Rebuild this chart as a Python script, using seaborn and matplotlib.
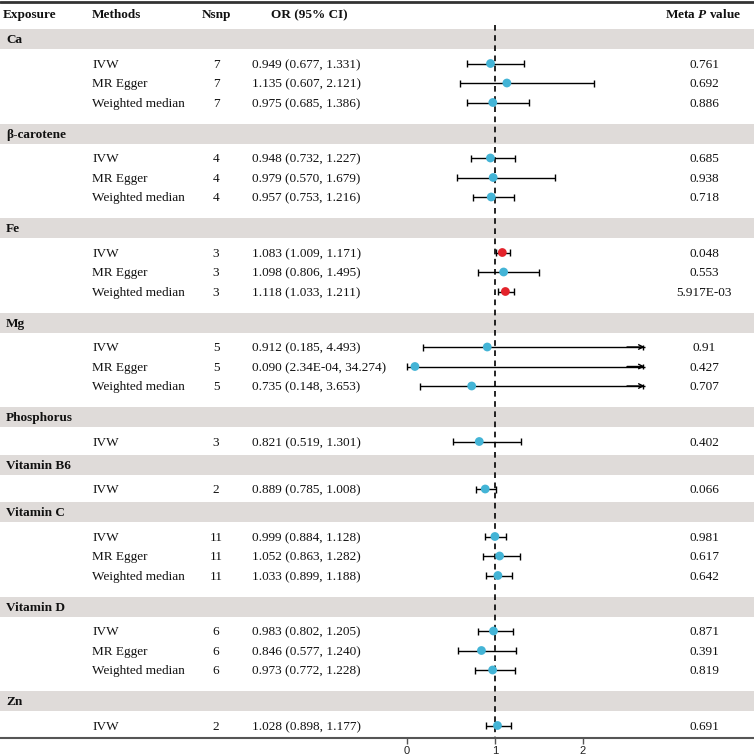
import numpy as np
import pandas as pd
import seaborn as sns
import matplotlib.pyplot as plt
import matplotlib.transforms as mtransforms

# data
exposure = ["Ca", "Ca", "Ca",
            "β-carotene", "β-carotene", "β-carotene",
            "Fe", "Fe", "Fe",
            "Mg", "Mg", "Mg",
            "Phosphorus",
            "Vitamin B6",
            "Vitamin C", "Vitamin C", "Vitamin C",
            "Vitamin D", "Vitamin D", "Vitamin D",
            "Zn"]
method = ["IVW", "MR Egger", "Weighted median"] * 4 + ["IVW", "IVW"] + \
         ["IVW", "MR Egger", "Weighted median"] * 2 + ["IVW"]
nsnp = [7, 7, 7, 4, 4, 4, 3, 3, 3, 5, 5, 5, 3, 2, 11, 11, 11, 6, 6, 6, 2]
odds = [0.949, 1.135, 0.975, 0.948, 0.979, 0.957, 1.083, 1.098, 1.118,
        0.912, 0.090, 0.735, 0.821, 0.889, 0.999, 1.052, 1.033,
        0.983, 0.846, 0.973, 1.028]
lower = [0.677, 0.607, 0.685, 0.732, 0.570, 0.753, 1.009, 0.806, 1.033,
         0.185, 2.34e-4, 0.148, 0.519, 0.785, 0.884, 0.863, 0.899,
         0.802, 0.577, 0.772, 0.898]
upper = [1.331, 2.121, 1.386, 1.227, 1.679, 1.216, 1.171, 1.495, 1.211,
         4.493, 34.274, 3.653, 1.301, 1.008, 1.128, 1.282, 1.188,
         1.205, 1.240, 1.228, 1.177]
pvals = ["0.761", "0.692", "0.886", "0.685", "0.938", "0.718",
         "0.048", "0.553", "5.917E-03", "0.91", "0.427", "0.707",
         "0.402", "0.066", "0.981", "0.617", "0.642",
         "0.871", "0.391", "0.819", "0.691"]
significant = [False] * 6 + [True, False, True] + [False] * 12

x_clip = 2.7

df = pd.DataFrame({"exposure": exposure, "method": method, "nsnp": nsnp,
                   "or_": odds, "lo": lower, "hi": upper, "p": pvals,
                   "sig": significant})
groups = list(pd.unique(df["exposure"]))


def fmt(v):
    return f"{v:.3f}" if v >= 0.001 else f"{v:.2E}"


df["ci_text"] = [f"{fmt(o)} ({fmt(l)}, {fmt(h)})" for o, l, h in zip(df.or_, df.lo, df.hi)]

# vertical layout (pixel rows)
band_y = []
row_y = []
y = 39
for g in groups:
    n = (df.exposure == g).sum()
    band_y.append(y)
    y += 24.5
    for i in range(n):
        row_y.append(y)
        if i < n - 1:
            y += 19.5
    y += 31 if n > 1 else 23
df["ypos"] = row_y

sns.set_theme(style="white")
plt.rcParams["font.family"] = ["Liberation Serif", "DejaVu Serif"]
plt.rcParams["mathtext.fontset"] = "custom"
plt.rcParams["mathtext.it"] = "Liberation Serif:italic:bold"
plt.rcParams["mathtext.rm"] = "Liberation Serif:bold"

W, H = 754, 756
fig = plt.figure(figsize=(W / 100, H / 100), dpi=100)
ax = fig.add_axes([0, 18 / H, 1, 738 / H])
x0, x1 = 407.0, 495.0  # pixel positions of OR = 0 and OR = 1
ax.set_xlim(-x0 / (x1 - x0), 1 + (W - x1) / (x1 - x0))
ax.set_ylim(738, 0)
tr = mtransforms.blended_transform_factory(ax.transAxes, ax.transData)
fs = 9.5
base = 4.3  # baseline offset below the row centre

# grey group bands
for g, yb in zip(groups, band_y):
    ax.axhspan(yb - 10, yb + 10, color="#dfdbd9", lw=0, zorder=0)
    ax.text(6 / W, yb + base, g, transform=tr, ha="left", va="baseline",
            fontsize=fs, fontweight="bold", color="#111111")

# header
ax.axhline(2, color="#333333", lw=2, clip_on=False)
hdr = dict(transform=tr, va="baseline", fontsize=fs, fontweight="bold",
           color="#111111")
ax.text(3 / W, 14 + base, "Exposure", ha="left", **hdr)
ax.text(92 / W, 14 + base, "Methods", ha="left", **hdr)
ax.text(216 / W, 14 + base, "Nsnp", ha="center", **hdr)
ax.text(309 / W, 14 + base, "OR (95% CI)", ha="center", **hdr)
ax.text(703 / W, 14 + base, r"Meta $\mathit{P}$ value", ha="center", **hdr)

# text columns
for _, r in df.iterrows():
    kw = dict(transform=tr, va="baseline", fontsize=fs, color="#111111")
    yt = r.ypos + base
    ax.text(92 / W, yt, r.method, ha="left", **kw)
    ax.text(216 / W, yt, str(r.nsnp), ha="center", **kw)
    ax.text(252 / W, yt, r.ci_text, ha="left", **kw)
    ax.text(704 / W, yt, r.p, ha="center", **kw)

# reference line at OR = 1
ax.vlines(1, 25, 738, colors="black", linestyles=(0, (3.4, 2.7)), lw=1.2, zorder=1)

# confidence intervals
cap = 3.5
for _, r in df.iterrows():
    hi = min(r.hi, x_clip)
    ax.hlines(r.ypos, r.lo, hi, colors="black", lw=1, zorder=2)
    ax.vlines(r.lo, r.ypos - cap, r.ypos + cap, colors="black", lw=1, zorder=2)
    if r.hi > x_clip:
        ax.annotate("", xy=(x_clip, r.ypos), xytext=(x_clip - 0.2, r.ypos),
                    arrowprops=dict(arrowstyle="->", lw=1, color="black",
                                    shrinkA=0, shrinkB=0, mutation_scale=8))
        ax.vlines(x_clip - 0.02, r.ypos - cap + 1, r.ypos + cap - 1, colors="black", lw=1)
    else:
        ax.vlines(hi, r.ypos - cap, r.ypos + cap, colors="black", lw=1, zorder=2)

sns.scatterplot(data=df, x="or_", y="ypos", hue="sig",
                palette={False: "#43b4d6", True: "#e3232b"},
                s=40, edgecolor="none", legend=False, ax=ax, zorder=3)

# axis
for side in ["top", "right", "left"]:
    ax.spines[side].set_visible(False)
ax.spines["bottom"].set_color("#555555")
ax.spines["bottom"].set_linewidth(1.5)
ax.set_xticks([0, 1, 2])
ax.set_xticklabels(["0", "1", "2"], family="Liberation Sans", fontsize=8)
ax.tick_params(axis="x", direction="out", length=4, width=1, color="#555555",
               pad=1.5, bottom=True, labelcolor="#222222")
ax.set_yticks([])
ax.set_xlabel("")
ax.set_ylabel("")

fig.savefig("out.png", dpi=100)
